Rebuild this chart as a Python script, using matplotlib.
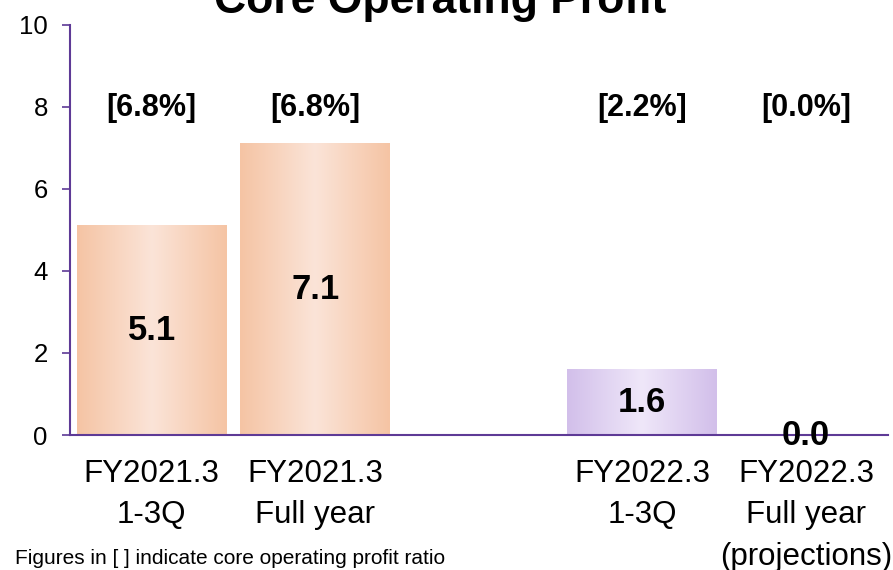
import matplotlib
matplotlib.use("Agg")
import matplotlib.pyplot as plt
import numpy as np
from matplotlib.colors import LinearSegmentedColormap

plt.rcParams['font.family'] = ['Liberation Sans', 'DejaVu Sans']

# data
categories = ["FY2021.3\n1-3Q", "FY2021.3\nFull year",
              "FY2022.3\n1-3Q", "FY2022.3\nFull year\n(projections)"]
positions = [0, 1, 3, 4]
profit = [5.1, 7.1, 1.6, 0.0]
ratio_labels = ["[6.8%]", "[6.8%]", "[2.2%]", "[0.0%]"]
bar_kind = ["past", "past", "current", "current"]

purple = "#5E3A96"
palettes = {
    "past": LinearSegmentedColormap.from_list("past", ["#F5C4A4", "#FBE4D8", "#F5C4A4"]),
    "current": LinearSegmentedColormap.from_list("cur", ["#D2BFEA", "#EFE7F9", "#D2BFEA"]),
}

fig = plt.figure(figsize=(8.93, 5.70), dpi=100)
ax = fig.add_axes([0.0784, 0.2368, 0.9156, 0.7202])

width = 0.917
grad = np.linspace(0, 1, 256).reshape(1, -1)
for x, v, kind in zip(positions, profit, bar_kind):
    if v > 0:
        ax.imshow(grad, cmap=palettes[kind], aspect="auto",
                  extent=[x - width / 2, x + width / 2, 0, v], zorder=1)
    ax.text(x, v / 2, f"{v:.1f}", ha="center", va="center",
            fontsize=25, fontweight="bold", zorder=4)

for x, lab in zip(positions, ratio_labels):
    ax.text(x, 7.97, lab, ha="center", va="center", fontsize=22,
            fontweight="bold")

ax.set_xlim(-0.5, 4.5)
ax.set_ylim(0, 10)
ax.set_yticks(range(0, 11, 2))
ax.set_xticks(positions)
ax.set_xticklabels(categories, fontsize=22.5, linespacing=1.5)
ax.tick_params(axis="x", length=0, pad=17)
ax.tick_params(axis="y", length=6, width=1.2, color=purple, labelsize=18.5, pad=10)

for side in ["top", "right"]:
    ax.spines[side].set_visible(False)
for side in ["left", "bottom"]:
    ax.spines[side].set_color(purple)
    ax.spines[side].set_linewidth(1.5)
ax.spines["bottom"].set_zorder(3)

fig.text(0.5 * (215 + 665) / 893, 1 - 1 / 570, "Core Operating Profit",
         ha="center", va="center", fontsize=32, fontweight="bold")
fig.text(15 / 893, 1 - 558 / 570, "Figures in [ ] indicate core operating profit ratio",
         ha="left", va="center", fontsize=15)

fig.savefig("out.png", dpi=100)
